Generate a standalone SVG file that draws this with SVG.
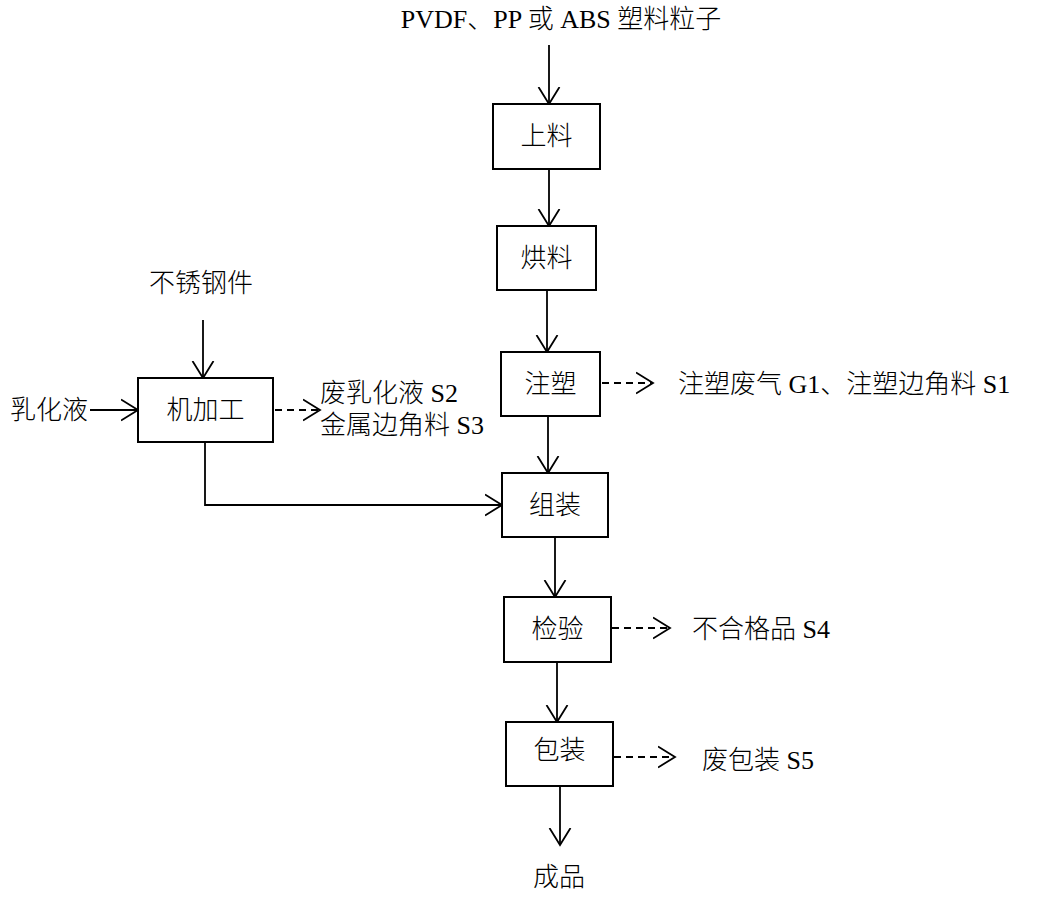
<svg xmlns="http://www.w3.org/2000/svg" width="1055" height="897" viewBox="0 0 1055 897">
<style>
text{font-family:"Liberation Serif","Noto Sans CJK SC",serif;font-size:26px;font-weight:300;fill:#000}
.box{fill:#fff;stroke:#000;stroke-width:2}
.ln{fill:none;stroke:#000;stroke-width:1.8}
.ds{fill:none;stroke:#000;stroke-width:1.8;stroke-dasharray:7 5}
.c{text-anchor:middle}
</style>
<defs>
<marker id="ah" markerUnits="userSpaceOnUse" markerWidth="24" markerHeight="26" refX="17" refY="12" orient="auto" viewBox="0 0 24 26">
<path d="M0,1.5 L17,12 L0,22.5" fill="none" stroke="#000" stroke-width="1.8"/>
</marker>
</defs>
<rect width="1055" height="897" fill="#fff"/>
<g id="connectors">
<line class="ln" x1="549" y1="45" x2="549" y2="104" marker-end="url(#ah)"/>
<line class="ln" x1="549" y1="169" x2="549" y2="226" marker-end="url(#ah)"/>
<line class="ln" x1="547" y1="290" x2="547" y2="352" marker-end="url(#ah)"/>
<line class="ln" x1="548" y1="416" x2="548" y2="473" marker-end="url(#ah)"/>
<line class="ln" x1="555" y1="537" x2="555" y2="597" marker-end="url(#ah)"/>
<line class="ln" x1="557" y1="662" x2="557" y2="722" marker-end="url(#ah)"/>
<line class="ln" x1="560" y1="786" x2="560" y2="845" marker-end="url(#ah)"/>
<line class="ln" x1="203" y1="320" x2="203" y2="378" marker-end="url(#ah)"/>
<line class="ln" x1="90" y1="410" x2="138" y2="410" marker-end="url(#ah)"/>
<polyline class="ln" points="205,442 205,505 502,505" marker-end="url(#ah)"/>
<line class="ds" x1="275" y1="410" x2="320" y2="410" marker-end="url(#ah)"/>
<line class="ds" x1="602" y1="383" x2="653" y2="383" marker-end="url(#ah)"/>
<line class="ds" x1="612" y1="628" x2="670" y2="628" marker-end="url(#ah)"/>
<line class="ds" x1="614" y1="757" x2="675" y2="757" marker-end="url(#ah)"/>
</g>
<g id="label-input"><text x="561" y="28" class="c">PVDF、PP 或 ABS 塑料粒子</text></g>
<g id="n-shangliao"><rect class="box" x="493" y="104" width="107" height="65"/><text x="546.5" y="145" class="c">上料</text></g>
<g id="n-hongliao"><rect class="box" x="497" y="226" width="99" height="64"/><text x="546.5" y="267" class="c">烘料</text></g>
<g id="n-zhusu"><rect class="box" x="501" y="352" width="99" height="64"/><text x="550.5" y="393" class="c">注塑</text></g>
<g id="n-zuzhuang"><rect class="box" x="502" y="473" width="106" height="64"/><text x="555" y="514" class="c">组装</text></g>
<g id="n-jianyan"><rect class="box" x="504" y="597" width="107" height="65"/><text x="557.5" y="638" class="c">检验</text></g>
<g id="n-baozhuang"><rect class="box" x="506" y="722" width="107" height="64"/><text x="559.5" y="759" class="c">包装</text></g>
<g id="n-jijiagong"><rect class="box" x="138" y="378" width="135" height="64"/><text x="205.5" y="419" class="c">机加工</text></g>
<g id="label-steel"><text x="201" y="292" class="c">不锈钢件</text></g>
<g id="label-emulsion"><text x="10" y="419">乳化液</text></g>
<g id="label-s2s3"><text x="320" y="402">废乳化液 S2</text><text x="320" y="434">金属边角料 S3</text></g>
<g id="label-g1s1"><text x="678" y="393">注塑废气 G1、注塑边角料 S1</text></g>
<g id="label-s4"><text x="692" y="638">不合格品 S4</text></g>
<g id="label-s5"><text x="702" y="769">废包装 S5</text></g>
<g id="label-product"><text x="559" y="886" class="c">成品</text></g>
</svg>
